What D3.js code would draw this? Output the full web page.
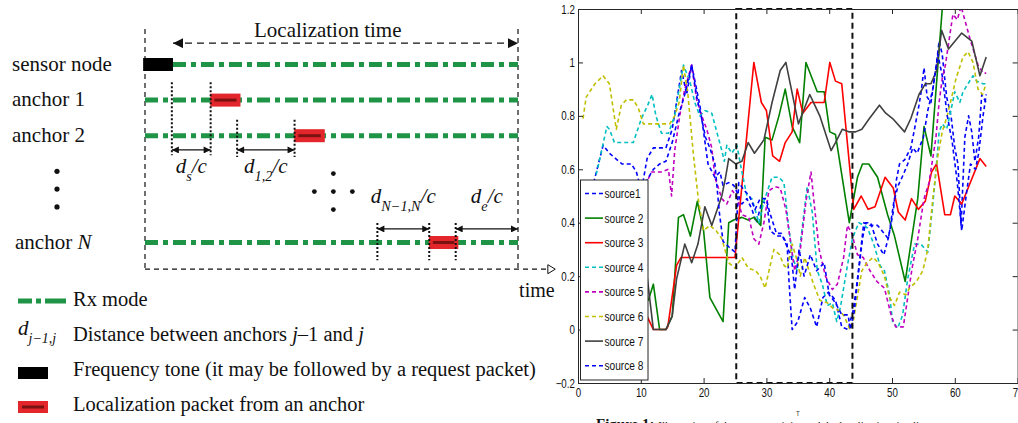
<!DOCTYPE html>
<html>
<head>
<meta charset="utf-8">
<script src="https://cdn.jsdelivr.net/npm/d3@7"></script>
<style>
  body { margin: 0; background: #fff; }
  svg { display: block; }
</style>
</head>
<body>
<svg id="fig" width="1018" height="423"></svg>
<script>
// ---------------- timing diagram (left) ----------------
const rowNames = ["sensor node", "anchor 1", "anchor 2", "anchor N"];
const rowSlots = [0, 1, 2, 5];            // vertical slot of each row
const rxStart = [0.075, 0, 0, 0];         // Rx mode start, as a fraction of the localization window
const toneSpan = [-0.005, 0.075];         // frequency tone on the sensor node row
const packetSlots = [1, 2, 5];            // anchor rows carrying a localization packet
const packetSpans = [[0.175, 0.256], [0.400, 0.482], [0.761, 0.840]];
const ellipsisSlots = [3, 3.5, 4];
const delays = [
  { sub: "s",         t0: 0.072, t1: 0.176, slot: 2.4,  mark: [0.5, 2.55], above: false },
  { sub: "1,2",       t0: 0.247, t1: 0.401, slot: 2.4,  mark: [1.55, 2.6], above: false },
  { sub: "N\u22121,N", t0: 0.623, t1: 0.762, slot: 4.62, mark: [4.45, 5.5], above: true },
  { sub: "e",         t0: 0.833, t1: 1.0,   slot: 4.62, mark: [4.45, 5.5], above: true }
];
const keyTexts = [
  "Rx mode",
  "Distance between anchors ",
  "Frequency tone (it may be followed by a request packet)",
  "Localization packet from an anchor"
];

// ---------------- source traces (right) ----------------
const seriesNames = ["source1", "source 2", "source 3", "source 4", "source 5", "source 6", "source 7", "source 8"];
const seriesColors = ["#0000ff", "#008000", "#ff0000", "#00bfbf", "#bf00bf", "#bfbf00", "#404040", "#0000ff"];
const seriesDashed = [true, false, false, true, true, true, false, true];

const source1 = [[2.5,0.55],[4,0.69],[5,0.66],[6,0.64],[7,0.62],[8.5,0.62],[9.3,0.59],[10.1,0.52],[11,0.64],[12,0.68],[14,0.68],[15,0.75],[16.5,0.97],[17.3,0.88],[18.1,0.99],[19.4,0.84],[20,0.74],[20.7,0.62],[21.8,0.57],[22.6,0.59],[23.1,0.54],[24,0.55],[24.8,0.54],[25.6,0.50],[26.1,0.47],[26.9,0.49],[27.7,0.45],[28.4,0.40],[29.3,0.48],[30.1,0.47],[30.6,0.37],[31.7,0.35],[32.6,0.35],[33.3,0.32],[33.6,0.18],[34.1,0.0],[35,0.03],[36.1,0.12],[37,0.08],[38,0.01],[39,0.12],[39.9,0.14],[41,0.11],[42,0.01],[43,0.0],[43.8,0.07],[44.3,0.15],[44.8,0.25],[45.5,0.40],[46.5,0.39],[47.7,0.39],[48.4,0.37],[49.4,0.34],[50.2,0.44],[50.7,0.56],[51.2,0.62],[52,0.635],[53,0.68],[53.5,0.74],[54.3,0.84],[54.7,0.90],[55.1,0.98],[55.6,0.87],[56.2,0.85],[57,0.98],[57.5,1.08],[58,1.03],[58.7,0.87],[59.4,0.80],[60,0.68],[60.5,0.62],[61,0.39],[61.6,0.72],[62.2,0.80],[62.7,0.74],[63.2,0.63],[63.8,0.72],[64.3,0.88],[65,0.85]];
const source2 = [[10,0.15],[11.2,0.11],[12,0.17],[13,0],[14,0],[15,0.05],[16,0.42],[16.8,0.43],[17.9,0.35],[19,0.48],[20,0.37],[21,0.12],[23.1,0.03],[24,0.40],[24.8,0.41],[26.1,0.42],[27.1,0.41],[28,0.42],[29.1,0.39],[29.8,0.72],[30.9,0.71],[32,0.80],[33,0.90],[34.1,0.76],[35.3,0.70],[36.3,1.0],[38.1,0.89],[39.2,0.89],[40.1,0.74],[41,0.73],[43.2,0.40],[44.5,0.57],[45.3,0.62],[46.3,0.62],[47.7,0.57],[49.3,0.43],[50.4,0.35],[52.1,0.18],[54.1,0.49],[55.1,0.76],[56.2,0.65],[58,1.2],[58.5,1.3]];
const source3 = [[10,0.1],[11.2,0.04],[12,0],[14,0],[14.3,0.01],[15.7,0.24],[16.4,0.27],[25,0.27],[28,1.0],[29.2,0.85],[30,0.82],[31,0.65],[32.1,0.63],[33,0.70],[34.1,0.74],[34.9,0.90],[35.8,0.81],[37.1,0.85],[39.2,0.85],[40.1,1.0],[41,0.93],[42,0.92],[43.9,0.45],[45.1,0.50],[46.2,0.45],[47.3,0.46],[48.9,0.57],[50.2,0.53],[51,0.44],[52.1,0.41],[53.1,0.49],[54.2,0.45],[55.3,0.48],[56.3,0.59],[57.1,0.62],[58.4,0.43],[59.3,0.43],[60,0.50],[61.1,0.47],[64,0.64],[65,0.61]];
const source4 = [[2.9,0.58],[4.6,0.76],[5,0.75],[5.8,0.70],[7,0.70],[8.8,0.70],[10.1,0.79],[11.1,0.84],[11.8,0.88],[12.4,0.80],[13.3,0.735],[14.4,0.735],[15.4,0.80],[16.1,0.90],[16.8,0.99],[17.8,0.93],[18.6,0.85],[19.4,0.80],[20.2,0.82],[21.3,0.81],[22.1,0.74],[22.9,0.67],[23.3,0.63],[23.7,0.69],[24.5,0.66],[25.3,0.69],[26.1,0.59],[26.9,0.50],[27.7,0.49],[28.8,0.40],[29.6,0.48],[30.9,0.57],[32,0.57],[32.8,0.55],[33.5,0.39],[34.2,0.27],[34.9,0.22],[36,0.44],[36.5,0.535],[37.3,0.44],[38.1,0.22],[38.9,0.17],[39.7,0.09],[40.5,0.10],[41.2,0.03],[41.8,0.085],[42.9,0.24],[43.7,0.34],[44.7,0.40],[45.6,0.39],[46.1,0.38],[47.1,0.32],[48.1,0.24],[48.8,0.22],[49.6,0.13],[50.1,0.03],[50.9,0.005],[51.7,0.055],[52.5,0.19],[53.6,0.32],[54.6,0.32],[55.7,0.29],[56.5,0.47],[57.1,0.62],[57.5,0.74],[58,0.77],[58.7,0.75],[59.2,0.80],[60,0.89],[60.8,0.85],[61.3,0.89],[62.9,0.95],[63.5,0.93],[64.5,0.92],[65,0.92]];
const source5 = [[10,0.52],[10.9,0.55],[11.7,0.59],[13.3,0.59],[14.4,0.60],[14.9,0.50],[15.4,0.67],[16.2,0.80],[17,0.90],[18.1,0.99],[18.9,0.86],[19.7,0.80],[20.5,0.75],[21.3,0.68],[21.8,0.57],[22.9,0.49],[23.7,0.47],[24.6,0.52],[25.4,0.49],[26.1,0.43],[27.2,0.42],[28,0.34],[28.8,0.32],[29.6,0.40],[30.4,0.52],[31.4,0.535],[32.2,0.53],[33.1,0.45],[33.9,0.32],[34.5,0.22],[35.4,0.30],[36.3,0.48],[37.1,0.59],[37.7,0.45],[38.4,0.30],[39.4,0.20],[40.5,0.15],[41.3,0.17],[42.3,0.27],[42.9,0.39],[43.6,0.36],[44.5,0.28],[45.4,0.27],[46.5,0.22],[47.6,0.18],[48.8,0.155],[49.9,0.05],[50.6,0.01],[51.8,0.01],[52.5,0.12],[53.2,0.23],[54.1,0.34],[55.1,0.49],[55.9,0.55],[57,0.72],[57.5,0.85],[58,0.94],[58.5,0.99],[59.7,1.18],[60.4,1.16],[61,1.21],[62.4,1.09],[63.7,0.99],[64.5,0.96],[65,0.96]];
const source6 = [[0.8,0.79],[1.3,0.87],[2.7,0.92],[4,0.95],[5,0.92],[6.1,0.75],[6.9,0.84],[7.7,0.86],[8.8,0.86],[9.6,0.83],[10.4,0.77],[11.4,0.77],[13,0.77],[14.6,0.77],[15.4,0.80],[16.1,0.85],[16.8,0.99],[17.5,0.88],[18.4,0.65],[19.2,0.48],[20,0.37],[21,0.39],[22,0.37],[22.9,0.34],[24,0.25],[25,0.23],[26.1,0.27],[27.1,0.23],[28.3,0.22],[29,0.20],[29.8,0.155],[30.6,0.24],[31.2,0.30],[32.1,0.28],[32.8,0.24],[33.3,0.23],[34.1,0.32],[35,0.25],[35.4,0.20],[36.1,0.27],[37.5,0.17],[38.5,0.11],[39.7,0.10],[40.6,0.08],[41.7,0.07],[42.4,0.05],[43.3,0.0],[43.9,0.04],[44.4,0.11],[45.2,0.22],[46,0.25],[47,0.27],[47.8,0.25],[48.8,0.20],[49.6,0.12],[50.4,0.09],[51.2,0.14],[52.2,0.13],[52.8,0.155],[53.9,0.18],[54.9,0.22],[55.7,0.30],[56.5,0.49],[57.3,0.65],[58,0.74],[58.8,0.80],[59.2,0.84],[60.2,0.94],[61.3,1.02],[62.1,1.04],[62.9,1.0],[63.7,0.90],[64.4,0.88],[65,0.92]];
const source7 = [[10,0.25],[11,0.2],[12,0],[14,0],[15,0.05],[15.7,0.19],[17,0.32],[18.1,0.25],[19.1,0.32],[20.2,0.46],[21.3,0.39],[22.9,0.50],[23.5,0.57],[24,0.64],[25.1,0.62],[26.1,0.63],[27.1,0.70],[28.1,0.66],[29.6,0.71],[30.9,0.85],[32.2,0.97],[33.1,1.0],[35.1,0.77],[36.9,0.88],[37.7,0.84],[38.5,0.80],[40.3,0.67],[41,0.70],[42.1,0.75],[43.2,0.74],[44.2,0.74],[45.2,0.75],[46.4,0.79],[48,0.84],[49,0.81],[50.1,0.79],[52,0.74],[53,0.79],[54.3,0.88],[55.3,0.92],[56.2,0.92],[57.1,0.97],[57.9,1.12],[59,1.05],[61.1,1.11],[62.7,1.08],[64,0.95],[65,1.02]];
const source8 = [[10,0.5],[11,0.56],[12,0.6],[13,0.62],[14,0.63],[15,0.70],[16,0.80],[17,0.88],[18.1,0.99],[19,0.86],[19.6,0.80],[20.3,0.72],[21,0.68],[21.8,0.62],[22.5,0.44],[23.1,0.33],[24,0.31],[25,0.29],[25.6,0.55],[26.5,0.52],[27.3,0.50],[28.2,0.45],[29,0.49],[30,0.49],[30.5,0.44],[31.6,0.36],[32.4,0.36],[34,0.27],[34.5,0.15],[35.2,0.30],[36,0.20],[37,0.28],[38,0.22],[39.2,0.25],[40,0.13],[41,0.10],[42,0.055],[43,0.055],[43.4,0.0],[44,0.07],[44.5,0.18],[45.3,0.34],[45.8,0.40],[46.6,0.40],[47.7,0.32],[48.7,0.28],[49.5,0.35],[50.3,0.48],[51,0.54],[51.8,0.58],[52.5,0.62],[53.3,0.68],[54,0.66],[55,0.72],[55.7,0.82],[56.5,0.90],[57.3,1.03],[58,0.95],[58.8,0.80],[59.6,0.70],[60.4,0.55],[61.1,0.37],[61.8,0.50],[62.5,0.62],[63.3,0.60],[63.8,0.66],[64.5,0.80],[65,0.88]];
const seriesData = [source1, source2, source3, source4, source5, source6, source7, source8];

const xTicks = [0, 10, 20, 30, 40, 50, 60, 70];
const yTicks = [-0.2, 0, 0.2, 0.4, 0.6, 0.8, 1.0, 1.2];
const windowT = [25.2, 43.7];            // highlighted interval (dashed box)
const captionLead = "Figure 1:";
const captionText = "Illustration of the source activity and the localization timeline";

// ======================================================
const svg = d3.select("#fig");
svg.append("rect").attr("width", 1018).attr("height", 423).attr("fill", "#fff");

const serif = "'Liberation Serif', 'Times New Roman', serif";
const sans = "'Liberation Sans', Arial, Helvetica, sans-serif";
const GREEN = "#1f9447", RED = "#e3262b", DARKRED = "#7a1212", INK = "#111";

const defs = svg.append("defs");
defs.append("marker").attr("id", "ahead").attr("viewBox", "0 0 10 10")
  .attr("refX", 10).attr("refY", 5).attr("markerWidth", 8).attr("markerHeight", 7)
  .attr("markerUnits", "userSpaceOnUse").attr("orient", "auto-start-reverse")
  .append("path").attr("d", "M0,0L10,5L0,10z").attr("fill", INK);
defs.append("marker").attr("id", "bighead").attr("viewBox", "0 0 10 10")
  .attr("refX", 10).attr("refY", 5).attr("markerWidth", 13).attr("markerHeight", 10)
  .attr("markerUnits", "userSpaceOnUse").attr("orient", "auto-start-reverse")
  .append("path").attr("d", "M0,0L10,5L0,10z").attr("fill", INK);

// ---------- left: timeline ----------
const tx = d3.scaleLinear().domain([0, 1]).range([145, 518]);
const ry = d3.scaleLinear().domain([0, 5]).range([64.5, 242.5]);
const L = svg.append("g");

// localization window boundaries
L.selectAll("line.edge").data([0, 1]).join("line").attr("class", "edge")
  .attr("x1", d => tx(d)).attr("x2", d => tx(d))
  .attr("y1", ry(-1)).attr("y2", ry(5.75))
  .attr("stroke", INK).attr("stroke-width", 1.2).attr("stroke-dasharray", "5,4");

// time axis with open arrow head
L.append("line").attr("x1", tx(0)).attr("x2", tx(1.08)).attr("y1", ry(5.75)).attr("y2", ry(5.75))
  .attr("stroke", INK).attr("stroke-width", 1.2).attr("stroke-dasharray", "5,4");
L.append("path")
  .attr("d", `M${tx(1.08)},${ry(5.75) - 4.5}L${tx(1.1)},${ry(5.75)}L${tx(1.08)},${ry(5.75) + 4.5}Z`)
  .attr("fill", "#fff").attr("stroke", INK).attr("stroke-width", 1);
L.append("text").attr("x", tx(1.003)).attr("y", ry(5.75) + 28)
  .attr("font-family", serif).attr("font-size", 20).attr("fill", INK).text("time");

// localization time span
L.append("line").attr("x1", tx(0.075)).attr("x2", tx(1)).attr("y1", ry(-0.6)).attr("y2", ry(-0.6))
  .attr("stroke", INK).attr("stroke-width", 1.2).attr("stroke-dasharray", "7,5")
  .attr("marker-start", "url(#bighead)").attr("marker-end", "url(#bighead)");
L.append("text").attr("x", tx(0.49)).attr("y", ry(-0.6) - 6).attr("text-anchor", "middle")
  .attr("font-family", serif).attr("font-size", 21).attr("fill", INK).text("Localization time");

// row labels
const rowLabel = L.selectAll("text.row").data(rowNames).join("text").attr("class", "row")
  .attr("x", (d, i) => i === 3 ? 15 : 12).attr("y", (d, i) => ry(rowSlots[i]) + 6)
  .attr("font-family", serif).attr("font-size", 21).attr("fill", INK);
rowLabel.each(function (d) {
  const t = d3.select(this);
  if (d.endsWith(" N")) {
    t.append("tspan").text(d.slice(0, -1));
    t.append("tspan").attr("font-style", "italic").text("N");
  } else t.text(d);
});
L.selectAll("circle.vdots").data(ellipsisSlots).join("circle").attr("class", "vdots")
  .attr("cx", 57).attr("cy", d => ry(d)).attr("r", 2.6).attr("fill", INK);

// Rx mode lines
L.selectAll("line.rx").data(rowSlots).join("line").attr("class", "rx")
  .attr("x1", (d, i) => tx(rxStart[i])).attr("x2", tx(1))
  .attr("y1", d => ry(d)).attr("y2", d => ry(d))
  .attr("stroke", GREEN).attr("stroke-width", 5).attr("stroke-dasharray", "13,5,5,5");

// frequency tone
L.append("rect").attr("x", tx(toneSpan[0])).attr("width", tx(toneSpan[1]) - tx(toneSpan[0]))
  .attr("y", ry(0) - 6.5).attr("height", 13).attr("fill", "#000");

// localization packets
function packet(g, x0, x1, yc, h) {
  g.append("rect").attr("x", x0).attr("width", x1 - x0).attr("y", yc - h / 2).attr("height", h).attr("fill", RED);
  g.append("line").attr("x1", x0 + 4).attr("x2", x1 - 4).attr("y1", yc).attr("y2", yc)
    .attr("stroke", DARKRED).attr("stroke-width", 3);
}
packetSpans.forEach((s, i) => packet(L, tx(s[0]), tx(s[1]), ry(packetSlots[i]), 13));

// propagation delays
function delayLabel(g, xc, y, sub, size) {
  const t = g.append("text").attr("x", xc).attr("y", y).attr("text-anchor", "middle")
    .attr("font-family", serif).attr("font-style", "italic").attr("font-size", size).attr("fill", INK);
  t.append("tspan").text("d");
  t.append("tspan").attr("dy", size * 0.4).attr("font-size", size * 0.68).text(sub);
  t.append("tspan").attr("dy", -size * 0.4).text("/c");
  return t;
}
delays.forEach(d => {
  const marks = d.t1 < 1 ? [d.t0, d.t1] : [d.t0];
  marks.forEach(m => {
    L.append("line").attr("x1", tx(m)).attr("x2", tx(m)).attr("y1", ry(d.mark[0])).attr("y2", ry(d.mark[1]))
      .attr("stroke", INK).attr("stroke-width", 2).attr("stroke-dasharray", "2,2");
  });
  L.append("line").attr("x1", tx(d.t0)).attr("x2", tx(d.t1)).attr("y1", ry(d.slot)).attr("y2", ry(d.slot))
    .attr("stroke", INK).attr("stroke-width", 1.3)
    .attr("marker-start", "url(#ahead)").attr("marker-end", "url(#ahead)");
  delayLabel(L, (tx(d.t0) + tx(d.t1)) / 2, d.above ? ry(d.slot) - 26 : ry(d.slot) + 23, d.sub, 21);
});

// central ellipsis
const cx = tx(0.505), cy = ry(3.57);
[[-1, 0], [0, 0], [1, 0], [0, -1], [0, 1]].forEach(([a, b]) =>
  L.append("circle").attr("cx", cx + a * 19).attr("cy", cy + b * 18).attr("r", 2.4).attr("fill", INK));

// key
const keyY = [306, 341, 376, 411];
const K = svg.append("g");
K.append("line").attr("x1", 18).attr("x2", 66).attr("y1", keyY[0] - 5).attr("y2", keyY[0] - 5)
  .attr("stroke", GREEN).attr("stroke-width", 5).attr("stroke-dasharray", "14,4,5,4,25");
const kd = K.append("text").attr("x", 18).attr("y", keyY[1] - 6)
  .attr("font-family", serif).attr("font-style", "italic").attr("font-size", 21).attr("fill", INK);
kd.append("tspan").text("d");
kd.append("tspan").attr("dy", 8).attr("font-size", 14).text("j\u22121,j");
K.append("rect").attr("x", 18).attr("y", keyY[2] - 9).attr("width", 30).attr("height", 12).attr("fill", "#000");
packet(K, 18, 48, keyY[3] - 4, 12);
const kt = K.selectAll("text.key").data(keyTexts).join("text").attr("class", "key")
  .attr("x", 73).attr("y", (d, i) => keyY[i])
  .attr("font-family", serif).attr("font-size", 20.5).attr("fill", INK);
kt.each(function (d, i) {
  const t = d3.select(this);
  t.append("tspan").text(d);
  if (i === 1) {
    t.append("tspan").attr("font-style", "italic").text("j");
    t.append("tspan").text("\u20131 and ");
    t.append("tspan").attr("font-style", "italic").text("j");
  }
});

// ---------- right: source traces ----------
const x = d3.scaleLinear().domain([0, 70]).range([578, 1017.6]);
const y = d3.scaleLinear().domain([-0.2, 1.2]).range([383, 9]);
const R = svg.append("g");

defs.append("clipPath").attr("id", "plotclip").append("rect")
  .attr("x", x(0)).attr("y", y(1.2)).attr("width", x(70) - x(0)).attr("height", y(-0.2) - y(1.2));

const line = d3.line().x(d => x(d[0])).y(d => y(d[1]));
R.append("g").attr("clip-path", "url(#plotclip)")
  .selectAll("path").data(seriesData).join("path")
  .attr("d", line).attr("fill", "none")
  .attr("stroke", (d, i) => seriesColors[i]).attr("stroke-width", 1.6)
  .attr("stroke-dasharray", (d, i) => seriesDashed[i] ? "4,3" : null)
  .attr("stroke-linejoin", "round");

// highlighted interval
R.append("rect").attr("x", x(windowT[0])).attr("y", y(1.2))
  .attr("width", x(windowT[1]) - x(windowT[0])).attr("height", y(-0.2) - y(1.2))
  .attr("fill", "none").attr("stroke", "#111").attr("stroke-width", 2).attr("stroke-dasharray", "6,4");

// axes (ticks pointing inward on all four sides)
const axisColor = "#262626";
const squeeze = "scale(0.78,1)";
function styleAxis(g) {
  g.selectAll("path, line").attr("stroke", axisColor);
  g.selectAll("text").attr("font-family", sans).attr("font-size", 12.5).attr("fill", "#111");
}
R.append("g").attr("transform", `translate(0,${y(-0.2)})`)
  .call(d3.axisBottom(x).tickValues(xTicks).tickSize(-5).tickSizeOuter(0).tickPadding(5).tickFormat(d3.format("d")))
  .call(styleAxis).call(g => g.selectAll("text").attr("transform", squeeze));
R.append("g").attr("transform", `translate(${x(0)},0)`)
  .call(d3.axisLeft(y).tickValues(yTicks).tickSize(-5).tickSizeOuter(0).tickPadding(4)
    .tickFormat(d => d === 0 ? "0" : d3.format("~g")(d)))
  .call(styleAxis).call(g => g.selectAll("text").attr("transform", squeeze));
R.append("g").attr("transform", `translate(0,${y(1.2)})`)
  .call(d3.axisTop(x).tickValues(xTicks).tickSize(-5).tickSizeOuter(0).tickFormat(""))
  .call(styleAxis);
R.append("g").attr("transform", `translate(${x(70)},0)`)
  .call(d3.axisRight(y).tickValues(yTicks).tickSize(-5).tickSizeOuter(0).tickFormat(""))
  .call(styleAxis);

R.append("text").attr("transform", `translate(${(x(0) + x(70)) / 2},${y(-0.2) + 33}) ${squeeze}`)
  .attr("text-anchor", "middle").attr("font-family", sans).attr("font-size", 8).attr("fill", "#333").text("T");

// legend
const lg = R.append("g").attr("transform", `translate(${x(0) + 2.5},180)`);
lg.append("rect").attr("width", 67.5).attr("height", 200).attr("fill", "#fff")
  .attr("stroke", axisColor).attr("stroke-width", 1);
const item = lg.selectAll("g.item").data(seriesNames).join("g").attr("class", "item")
  .attr("transform", (d, i) => `translate(0,${13.5 + i * 24.6})`);
item.append("line").attr("x1", 4.5).attr("x2", 22.5)
  .attr("stroke", (d, i) => seriesColors[i]).attr("stroke-width", 1.6)
  .attr("stroke-dasharray", (d, i) => seriesDashed[i] ? "4,3" : null);
item.append("text").attr("transform", `translate(24,4.5) ${squeeze}`)
  .attr("font-family", sans).attr("font-size", 13).attr("fill", "#111").text(d => d);

// caption (cut by the bottom edge)
const cap = svg.append("text").attr("x", 596).attr("y", 429)
  .attr("font-family", serif).attr("fill", "#111");
cap.append("tspan").attr("font-weight", "bold").attr("font-size", 15).text(captionLead + " ");
cap.append("tspan").attr("font-size", 11).text(captionText);
</script>
</body>
</html>
